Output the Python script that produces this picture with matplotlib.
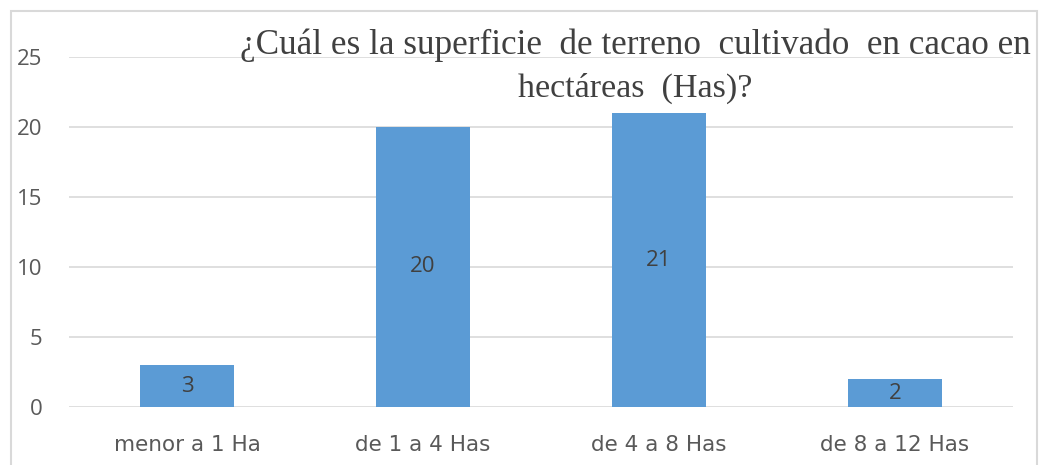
import matplotlib
matplotlib.use("Agg")
import matplotlib.pyplot as plt
from matplotlib.patches import Rectangle

categories = ["menor a 1 Ha", "de 1 a 4 Has", "de 4 a 8 Has", "de 8 a 12 Has"]
values = [3, 20, 21, 2]
yticks = [0, 5, 10, 15, 20, 25]
title_line1 = "¿Cuál es la superficie  de terreno  cultivado  en cacao en"
title_line2 = "hectáreas  (Has)?"

W, H = 1039, 465
fig = plt.figure(figsize=(W / 100, H / 100), dpi=100)
fig.patch.set_facecolor("white")

# outer chart border
fig.add_artist(Rectangle((11 / W, -0.05), (1037 - 11) / W, 1 - 11 / H + 0.05,
                         transform=fig.transFigure, fill=False,
                         edgecolor="#D9D9D9", linewidth=1.5))

left, right = 69 / W, 1013 / W
bottom, top = 1 - 407 / H, 1 - 57 / H
ax = fig.add_axes([left, bottom, right - left, top - bottom])

tick_font = "Open Sans"
x = range(len(categories))
bars = ax.bar(x, values, width=0.40, color="#5B9BD5", zorder=3)
for xi, v in zip(x, values):
    ax.text(xi, v / 2, str(v), ha="center", va="center", fontsize=16,
            color="#404040", family=tick_font, zorder=4)

ax.set_xlim(-0.5, len(categories) - 0.5)
ax.set_ylim(0, 25)
ax.set_yticks(yticks)
ax.set_yticklabels([str(t) for t in yticks], fontsize=16, color="#595959", family=tick_font)
ax.set_xticks(list(x))
ax.set_xticklabels(categories, fontsize=15.5, color="#595959", family="DejaVu Sans")
ax.tick_params(axis="both", length=0)
ax.tick_params(axis="y", pad=19)
ax.tick_params(axis="x", pad=20)
for s in ax.spines.values():
    s.set_visible(False)
ax.yaxis.grid(True, color="#D9D9D9", linewidth=1.2, zorder=0)
ax.set_axisbelow(True)

fig.text(635 / W, 1 - 45 / H, title_line1, ha="center", va="center",
         fontsize=25.3, family="Liberation Serif", color="#404040")
fig.text(635 / W, 1 - 88 / H, title_line2, ha="center", va="center",
         fontsize=24.5, family="Liberation Serif", color="#404040")

fig.savefig("out.png", dpi=100)
